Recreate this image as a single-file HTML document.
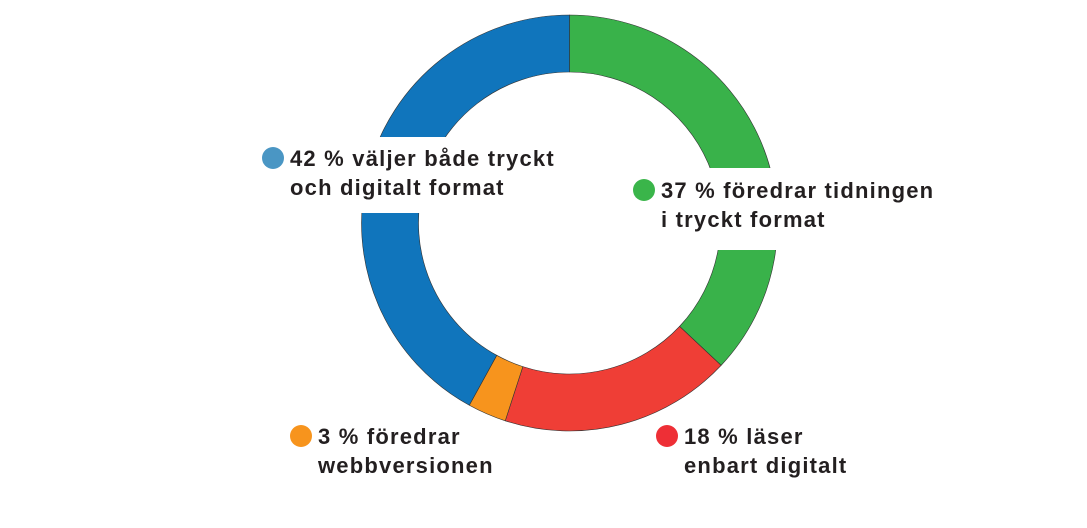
<!DOCTYPE html>
<html><head><meta charset="utf-8"><style>
html,body{margin:0;padding:0;background:#fff;}
svg{display:block;}
text{font-family:"Liberation Sans",sans-serif;font-size:22px;fill:#231f20;font-weight:bold;letter-spacing:1.2px;}
</style></head><body>
<svg width="1087" height="528" id="chart"></svg>
<script>
const categories=["37 % föredrar tidningen|i tryckt format","18 % läser|enbart digitalt","3 % föredrar|webbversionen","42 % väljer både tryckt|och digitalt format"];
const values=[37,18,3,42];
const sliceColors=["#39b24a","#ef3e36","#f7941d","#1075bc"];
const dotColors=["#3ab54a","#ee2f36","#f7941d","#4a96c4"];
const names=["slice-print","slice-digital","slice-web","slice-both"];
const svg=document.getElementById('chart');
const NS="http://www.w3.org/2000/svg";
const cx=569.5,cy=223,R=208,r=151;
const total=values.reduce((a,b)=>a+b,0);
function pt(a,rad){return [cx+rad*Math.sin(a),cy-rad*Math.cos(a)];}
let acc=0;
values.forEach((v,i)=>{
  const a0=acc/total*2*Math.PI;acc+=v;const a1=acc/total*2*Math.PI;
  const lg=(a1-a0)>Math.PI?1:0;
  const p0=pt(a0,R),p1=pt(a1,R),q1=pt(a1,r),q0=pt(a0,r);
  const p=document.createElementNS(NS,'path');
  p.setAttribute('d',`M${p0} A${R},${R} 0 ${lg} 1 ${p1} L${q1} A${r},${r} 0 ${lg} 0 ${q0} Z`);
  p.setAttribute('fill',sliceColors[i]);p.setAttribute('stroke','#333');p.setAttribute('stroke-width','0.6');
  
  
  svg.appendChild(p);
});
const boxes=[[628,168,320,82,644,190],[648,424,220,60,667,436],[285,424,220,60,301,436],[258,137,310,76,273,158]];
const lnames=["label-print","label-digital","label-web","label-both"];
categories.forEach((c,i)=>{
  const b=boxes[i];
  const g=document.createElementNS(NS,'g');
  
  
  const rc=document.createElementNS(NS,'rect');
  rc.setAttribute('x',b[0]);rc.setAttribute('y',b[1]);rc.setAttribute('width',b[2]);rc.setAttribute('height',b[3]);rc.setAttribute('fill','#fff');
  g.appendChild(rc);
  const d=document.createElementNS(NS,'circle');
  d.setAttribute('cx',b[4]);d.setAttribute('cy',b[5]);d.setAttribute('r',11);d.setAttribute('fill',dotColors[i]);
  
  
  g.appendChild(d);
  c.split('|').forEach((line,j)=>{
    const t=document.createElementNS(NS,'text');
    t.setAttribute('x',b[4]+17);t.setAttribute('y',b[5]+8+j*29);
    t.textContent=line;g.appendChild(t);
  });
  svg.appendChild(g);
});
</script>
</body></html>
